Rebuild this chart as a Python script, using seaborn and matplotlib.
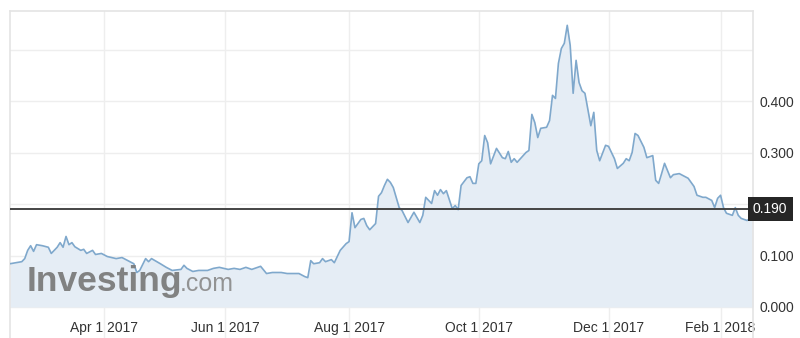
import matplotlib
matplotlib.use("Agg")
import matplotlib.pyplot as plt
import matplotlib.transforms as mtransforms
import seaborn as sns
import pandas as pd

# ---- data (trading-session index, closing price) ----
sessions = [0,2,4,5,6,7,8,9,11,13,
            14,16,17,18,19,20,21,22,24,25,
            26,28,29,31,33,36,38,40,42,43,
            44,46,47,48,51,53,55,58,59,60,
            62,64,67,69,71,74,76,78,80,82,
            85,87,89,92,94,96,98,100,101,102,
            103,105,106,107,109,110,112,114,115,116,
            117,119,120,121,122,124,125,126,127,128,
            129,130,132,133,135,137,139,140,141,143,
            144,145,146,147,148,150,151,152,153,155,
            156,157,158,159,160,161,162,163,165,167,
            168,169,170,171,172,175,176,177,178,179,
            180,182,183,184,185,186,187,188,189,190,
            191,192,193,194,195,197,198,199,200,202,
            203,205,206,208,209,210,211,212,213,215,
            216,218,219,220,221,222,224,225,227,229,
            230,232,233,234,235,236,238,239,240,241,
            242,243,245,246,247,248,250,251,252]
prices = [0.084,0.086,0.088,0.094,0.110,0.119,0.108,0.121,0.119,0.116,
          0.104,0.116,0.125,0.116,0.137,0.121,0.125,0.117,0.110,0.112,
          0.104,0.110,0.102,0.104,0.098,0.094,0.096,0.090,0.084,0.067,
          0.071,0.094,0.088,0.094,0.084,0.077,0.071,0.073,0.081,0.075,
          0.069,0.071,0.071,0.075,0.077,0.073,0.075,0.073,0.077,0.073,
          0.079,0.065,0.067,0.067,0.065,0.065,0.065,0.059,0.057,0.090,
          0.084,0.086,0.094,0.088,0.092,0.086,0.110,0.123,0.127,0.183,
          0.154,0.170,0.172,0.158,0.150,0.162,0.215,0.222,0.236,0.248,
          0.242,0.232,0.193,0.187,0.164,0.184,0.164,0.178,0.213,0.201,
          0.226,0.217,0.228,0.220,0.226,0.191,0.197,0.189,0.236,0.251,
          0.253,0.240,0.240,0.278,0.284,0.333,0.319,0.278,0.308,0.290,
          0.288,0.302,0.281,0.288,0.281,0.300,0.304,0.374,0.358,0.329,
          0.347,0.349,0.362,0.411,0.405,0.473,0.502,0.512,0.547,0.508,
          0.415,0.479,0.436,0.420,0.415,0.352,0.378,0.304,0.284,0.314,
          0.312,0.288,0.269,0.279,0.288,0.284,0.300,0.337,0.333,0.310,
          0.290,0.294,0.246,0.240,0.259,0.279,0.251,0.257,0.259,0.253,
          0.250,0.234,0.217,0.215,0.213,0.213,0.207,0.193,0.211,0.217,
          0.193,0.182,0.178,0.193,0.178,0.172,0.168,0.172,0.190]
tick_sessions = [32, 73, 115, 159, 203, 241]
tick_labels = ["Apr 1 2017", "Jun 1 2017", "Aug 1 2017", "Oct 1 2017", "Dec 1 2017", "Feb 1 2018"]
y_ticks = [0.0, 0.1, 0.2, 0.3, 0.4, 0.5]
# 0.200 sits under the current-price tag, 0.500 is not labelled in the source
y_labels = ["0.000", "0.100", "", "0.300", "0.400", ""]
last_price = 0.190

df = pd.DataFrame({"session": sessions, "price": prices})

sns.set_style("white")
plt.rcParams["font.family"] = ["Liberation Sans", "DejaVu Sans"]

W, H = 800, 338
fig = plt.figure(figsize=(W / 100, H / 100), dpi=100)
ax = fig.add_axes([10 / W, 0 / H, 743 / W, 327 / H])

line_col = "#7fa8cc"
fill_col = "#e5edf5"

ax.fill_between(df["session"], df["price"], 0, color=fill_col, lw=0, zorder=1)
sns.lineplot(data=df, x="session", y="price", ax=ax, color=line_col, lw=1.2, zorder=3)

ax.set_xlim(0, 252)
ax.set_ylim(-0.0602, 0.5748)

# grid
for t in tick_sessions:
    ax.axvline(t, color="#eeeeee", lw=1, zorder=0.5)
for t in y_ticks:
    ax.axhline(t, color="#eeeeee", lw=1, zorder=0.5)

ax.set_xticks(tick_sessions)
ax.set_xticklabels(tick_labels)
ax.set_yticks(y_ticks)
ax.set_yticklabels(y_labels)
ax.yaxis.tick_right()
ax.tick_params(axis="x", length=0, pad=-12.5, labelsize=10, labelcolor="#333333")
ax.tick_params(axis="y", length=0, pad=5, labelsize=10, labelcolor="#333333")
ax.set_xlabel("")
ax.set_ylabel("")

for side in ["left", "right", "top"]:
    ax.spines[side].set_color("#e4e4e4")
    ax.spines[side].set_linewidth(1.2)
ax.spines["bottom"].set_visible(False)

# current price line and label
ax.axhline(last_price, color="#444444", lw=1.4, zorder=4)
trans = mtransforms.blended_transform_factory(ax.transAxes, ax.transData)
ax.text(1.0, last_price, f"{last_price:.3f}", transform=trans,
        ha="left", va="center", fontsize=10, color="white", zorder=10,
        bbox=dict(boxstyle="square,pad=0.38", fc="#262626", ec="none"),
        clip_on=False)

# watermark
fig.text(27 / W, 1 - 291 / H, "Investing", fontsize=25.5, fontweight="bold",
         color="#7c7c7c", va="baseline", ha="left", alpha=0.95, zorder=5)
fig.text(180 / W, 1 - 291 / H, ".com", fontsize=18, color="#8e8e8e",
         va="baseline", ha="left", alpha=0.95, zorder=5)

fig.savefig("out.png", dpi=100)
